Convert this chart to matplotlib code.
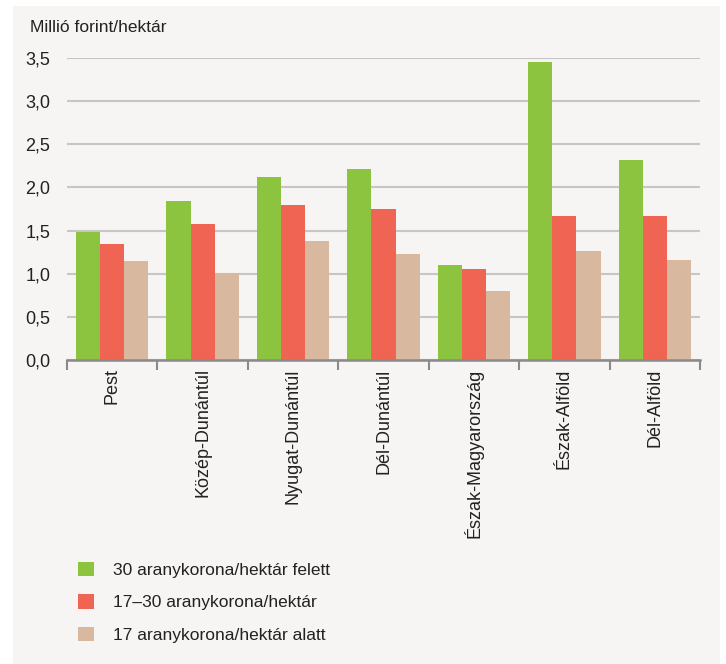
import numpy as np
import matplotlib.pyplot as plt
from matplotlib.patches import Rectangle

regions = ["Pest", "Közép-Dunántúl", "Nyugat-Dunántúl", "Dél-Dunántúl",
           "Észak-Magyarország", "Észak-Alföld", "Dél-Alföld"]
felett = [1.48, 1.84, 2.12, 2.21, 1.10, 3.45, 2.32]
kozott = [1.34, 1.58, 1.80, 1.75, 1.06, 1.67, 1.67]
alatt = [1.15, 1.01, 1.38, 1.23, 0.80, 1.26, 1.16]
series_names = ["30 aranykorona/hektár felett",
                "17–30 aranykorona/hektár",
                "17 aranykorona/hektár alatt"]
colors = ["#8dc43f", "#f06454", "#d8b89f"]
bg = "#f6f5f3"

plt.rcParams['font.family'] = ['Liberation Sans', 'DejaVu Sans']
plt.rcParams['font.size'] = 12.5

fig = plt.figure(figsize=(7.26, 6.64), dpi=100)
fig.patch.set_facecolor("white")
fig.patches.append(Rectangle((13 / 726, 0), 707 / 726, 1 - 6 / 664,
                             transform=fig.transFigure, facecolor=bg,
                             edgecolor="none", zorder=-10))

ax = fig.add_axes([67 / 726, 1 - 360 / 664, 633 / 726, 302 / 664])
ax.set_facecolor(bg)

x = np.arange(len(regions))
w = 0.8 / 3
for i, (vals, name) in enumerate(zip([felett, kozott, alatt], series_names)):
    ax.bar(x + (i - 1) * w, vals, width=w, color=colors[i], label=name, zorder=3)

ax.set_xlim(-0.5, len(regions) - 0.5)
ax.set_ylim(0, 3.5)
yt = np.arange(0, 3.51, 0.5)
ax.set_yticks(yt)
ax.set_yticklabels([f"{v:.1f}".replace(".", ",") for v in yt], color="#222222",
                   fontsize=13)
ax.tick_params(axis="y", length=0, pad=12)
ax.yaxis.grid(True, color="#c6c6c6", linewidth=1.5, zorder=0)

ax.set_xticks(np.arange(-0.5, len(regions)), minor=False)
ax.set_xticklabels([])
ax.set_xticks(x, minor=True)
ax.set_xticklabels(regions, minor=True, rotation=90, va="top", ha="center",
                   color="#222222", fontsize=13)
ax.tick_params(axis="x", which="major", length=7, width=1.5, color="#8a8a8a")
ax.tick_params(axis="x", which="minor", length=0, pad=6)

for s in ["top", "right", "left"]:
    ax.spines[s].set_visible(False)
ax.spines["bottom"].set_color("#8a8a8a")
ax.spines["bottom"].set_linewidth(1.8)
ax.spines["bottom"].set_zorder(4)

fig.text(30 / 726, 1 - 28 / 664, "Millió forint/hektár", va="center", ha="left",
         color="#222222")

leg = fig.legend(loc="upper left", bbox_to_anchor=(62 / 726, 1 - 546 / 664),
                 frameon=False, handlelength=0.92, handleheight=0.92,
                 handletextpad=1.1, labelspacing=0.93, fontsize=12.5)
for t in leg.get_texts():
    t.set_color("#222222")

fig.savefig("out.png", dpi=100, facecolor=fig.get_facecolor())
